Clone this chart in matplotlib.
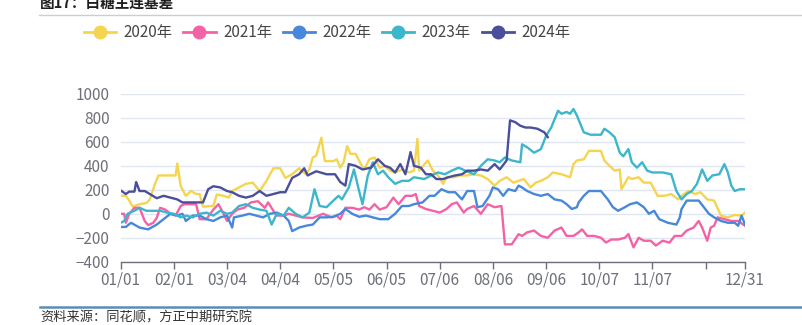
import numpy as np
import matplotlib
matplotlib.use('Agg')
import matplotlib.pyplot as plt
from matplotlib.lines import Line2D

plt.rcParams['font.family'] = ['Noto Sans CJK SC', 'DejaVu Sans']

# day index (0 = 01/01) and basis value for each year
days_2020 = [0, 3, 5, 7, 11, 15, 17, 20, 22, 32, 33, 35, 38, 41, 44, 46, 48, 54, 56, 60, 63, 65, 69, 73, 77,
             81, 85, 89, 93, 96, 100, 104, 108, 110, 112, 114, 117, 119, 124, 126, 128, 130, 132, 134, 137,
             140, 142, 145, 148, 151, 154, 157, 160, 164, 168, 171, 173, 174, 179, 182, 185, 188, 190, 194,
             198, 202, 206, 210, 214, 218, 221, 225, 229, 232, 235, 239, 242, 245, 249, 252, 257, 262, 264,
             266, 270, 273, 280, 282, 285, 288, 291, 292, 296, 298, 302, 305, 309, 313, 317, 321, 325, 327,
             331, 335, 338, 342, 346, 350, 354, 358, 362, 364]
vals_2020 = [150, 150, 110, 60, 80, 90, 120, 250, 320, 320, 420, 230, 150, 190, 165, 165, 60, 65, 160, 150,
             135, 190, 220, 250, 260, 190, 275, 380, 380, 300, 330, 380, 330, 370, 470, 485, 635, 440, 440,
             455, 385, 430, 565, 500, 500, 415, 370, 455, 470, 385, 400, 360, 345, 370, 345, 360, 625, 360,
             445, 360, 320, 250, 305, 305, 320, 320, 330, 320, 290, 235, 275, 305, 260, 275, 290, 220, 260,
             275, 305, 345, 330, 305, 415, 445, 455, 525, 525, 445, 400, 360, 370, 205, 305, 290, 305, 260,
             260, 150, 150, 165, 120, 150, 190, 165, 180, 120, 110, -15, -30, -10, -15, 10]

days_2021 = [0, 2, 3, 5, 8, 11, 14, 16, 19, 21, 23, 26, 29, 32, 35, 37, 44, 46, 50, 54, 57, 60, 62, 65, 68,
             72, 76, 80, 84, 86, 89, 91, 95, 98, 102, 106, 112, 118, 123, 126, 128, 131, 135, 139, 142, 145,
             148, 151, 155, 159, 162, 166, 170, 172, 174, 178, 182, 186, 190, 193, 196, 200, 202, 206, 210,
             214, 218, 222, 224, 228, 232, 234, 237, 241, 245, 249, 253, 257, 260, 264, 267, 269, 272, 276,
             280, 283, 286, 290, 294, 296, 299, 302, 305, 309, 312, 316, 320, 323, 327, 330, 334, 337, 339,
             342, 344, 346, 348, 352, 356, 360, 364]
vals_2021 = [0, 0, -75, 0, 50, 50, -60, -95, -75, -35, 50, 35, 0, -15, 65, 80, 80, -45, -45, 35, 80, 0, -60,
             0, 35, 50, 95, 105, 50, 95, 25, -15, -15, 0, -15, -30, -35, 0, -30, -15, -45, 50, 50, 35, 55, 35,
             80, 35, 55, 135, 80, 150, 150, 165, 65, 40, 25, 10, 40, 80, 95, 10, 40, 65, 0, 80, 55, 65, -255,
             -255, -170, -185, -155, -140, -185, -200, -140, -115, -185, -185, -155, -130, -185, -185, -200,
             -240, -215, -215, -200, -170, -280, -200, -225, -225, -265, -225, -240, -185, -185, -140, -115,
             -60, -115, -225, -115, -100, -30, -45, -60, -60, -100]

days_2022 = [0, 3, 6, 11, 16, 21, 25, 29, 33, 36, 38, 42, 46, 50, 54, 58, 62, 65, 66, 71, 75, 79, 83, 87, 91,
             95, 98, 100, 104, 108, 112, 116, 120, 124, 128, 131, 135, 139, 143, 147, 151, 156, 160, 164, 168,
             171, 176, 180, 183, 187, 191, 195, 199, 202, 206, 208, 211, 215, 217, 220, 223, 226, 230, 232,
             234, 237, 241, 245, 249, 253, 257, 260, 263, 266, 267, 270, 273, 280, 284, 287, 290, 294, 297,
             301, 305, 308, 311, 314, 319, 324, 326, 327, 330, 337, 340, 343, 346, 350, 354, 358, 360, 362,
             364]
vals_2022 = [-110, -110, -75, -115, -130, -90, -45, 0, -15, 0, -60, -15, -15, -45, -60, -30, -15, -115, -30,
             -15, 0, -15, -30, 0, 10, -15, -60, -145, -115, -100, -90, -30, -30, -25, 0, 40, 0, -25, -15, -30,
             -45, -45, 0, 65, 65, 80, 95, 150, 150, 205, 180, 180, 120, 190, 190, 55, 65, 150, 220, 205, 150,
             205, 190, 235, 220, 190, 165, 150, 165, 120, 110, 80, 40, 55, 95, 150, 190, 190, 120, 55, 25, 55,
             80, 95, 55, 0, 25, -45, -75, -90, -30, 40, 110, 110, 55, 0, -30, -60, -75, -75, -100, -15, -90]

days_2023 = [0, 2, 4, 8, 11, 15, 19, 23, 27, 31, 35, 38, 42, 46, 50, 54, 58, 62, 65, 69, 73, 77, 81, 85, 88,
             91, 95, 98, 102, 106, 110, 113, 116, 120, 124, 127, 129, 133, 136, 139, 141, 144, 147, 150, 153,
             156, 160, 164, 168, 171, 177, 181, 185, 189, 193, 197, 201, 206, 210, 214, 218, 221, 224, 228,
             233, 234, 237, 241, 245, 248, 251, 255, 257, 260, 262, 264, 266, 268, 270, 274, 280, 282, 285,
             288, 291, 293, 296, 298, 301, 304, 307, 310, 316, 321, 324, 327, 330, 333, 336, 339, 342, 345,
             349, 352, 354, 356, 358, 361, 364]
vals_2023 = [-75, -60, 0, 25, 50, 25, 25, 25, 10, 0, -30, -15, -30, 0, 10, -15, 25, 0, 10, 65, 80, 50, 35, 25,
             -90, 0, -15, 50, 0, -30, 10, 205, 65, 55, 110, 150, 120, 220, 370, 190, 80, 315, 430, 330, 360,
             305, 250, 275, 275, 305, 290, 320, 345, 330, 360, 385, 360, 330, 400, 455, 445, 430, 470, 445,
             430, 580, 555, 510, 540, 650, 720, 860, 835, 850, 835, 875, 820, 750, 680, 660, 660, 710, 680,
             640, 510, 480, 540, 430, 385, 430, 360, 345, 345, 330, 190, 120, 165, 190, 250, 370, 275, 320,
             330, 415, 345, 235, 190, 205, 205]

days_2024 = [0, 3, 5, 8, 9, 11, 14, 17, 21, 25, 29, 33, 36, 42, 48, 51, 54, 58, 62, 65, 69, 73, 77, 81, 85,
             89, 93, 96, 100, 104, 107, 109, 114, 120, 125, 128, 131, 133, 137, 141, 146, 150, 154, 157, 160,
             163, 166, 169, 171, 175, 178, 181, 184, 188, 191, 195, 199, 202, 206, 210, 214, 218, 221, 225,
             227, 230, 233, 236, 239, 243, 247, 249]
vals_2024 = [195, 165, 185, 185, 265, 190, 190, 165, 130, 150, 135, 120, 95, 95, 95, 205, 230, 220, 190, 180,
             150, 135, 150, 190, 150, 165, 180, 180, 300, 330, 380, 320, 355, 330, 330, 265, 235, 415, 400,
             370, 385, 455, 400, 385, 345, 415, 330, 515, 400, 385, 330, 330, 290, 290, 305, 320, 330, 360,
             360, 370, 360, 415, 370, 445, 780, 765, 735, 720, 720, 710, 680, 640]

tick_days = [0, 31, 62, 93, 124, 155, 186, 217, 248, 279, 310, 341, 364]
tick_labels = ['01/01', '02/01', '03/04', '04/04', '05/05', '06/05', '07/06', '08/06',
               '09/06', '10/07', '11/07', '', '12/31']

series = [
    ('2020年', days_2020, vals_2020, '#F5D44F'),
    ('2021年', days_2021, vals_2021, '#F462A6'),
    ('2022年', days_2022, vals_2022, '#4888D8'),
    ('2023年', days_2023, vals_2023, '#3CB6CB'),
    ('2024年', days_2024, vals_2024, '#4A4F9C'),
]

W, H = 802, 325
fig = plt.figure(figsize=(W / 100, H / 100), dpi=100)
fig.patch.set_facecolor('white')

x0, x1, ytop, ybot = 120.7, 745, 94, 261.7
ax = fig.add_axes([x0 / W, 1 - ybot / H, (x1 - x0) / W, (ybot - ytop) / H])

for name, d, v, c in series:
    ax.plot(d, v, color=c, lw=1.7, solid_joinstyle='round')

ax.set_xlim(0, 364)
ax.set_ylim(-400, 1000)
ax.set_yticks(np.arange(-400, 1001, 200))
ax.grid(axis='y', color='#E0E6F1', lw=1)
ax.set_axisbelow(True)
for s in ['top', 'right', 'left']:
    ax.spines[s].set_visible(False)
ax.spines['bottom'].set_color('#6E7079')
ax.spines['bottom'].set_linewidth(1)
ax.set_xticks(tick_days)
ax.set_xticklabels(tick_labels)
ax.tick_params(axis='x', length=5, width=1, color='#6E7079', labelcolor='#6E7079', labelsize=11, pad=2)
ax.tick_params(axis='y', length=0, labelcolor='#6E7079', labelsize=11, pad=8)

# legend row
handles = [Line2D([], [], color=c, lw=2, marker='o', markersize=9) for _, _, _, c in series]
fig.legend(handles, [s[0] for s in series], loc='center left',
           bbox_to_anchor=(84 / W, 1 - 33 / H), ncol=5, frameon=False,
           fontsize=11, handlelength=2.1, handletextpad=0.5, columnspacing=0.7,
           borderpad=0, borderaxespad=0, labelcolor='#464646')

# header / footer
fig.text(40 / W, 1 - 3 / H, '图17：白糖主连基差', fontsize=10.5, fontweight='bold',
         color='#1E1E1E', va='center', ha='left')
fig.add_artist(Line2D([39 / W, 1], [1 - 14.5 / H] * 2, color='#BFD0E0', lw=1))
fig.add_artist(Line2D([40 / W, 1], [1 - 306.5 / H] * 2, color='#5B8DB1', lw=1.8))
fig.text(40 / W, 1 - 318 / H, '资料来源：同花顺，方正中期研究院', fontsize=9.5,
         color='#333333', va='center', ha='left')

fig.savefig('out.png', dpi=100)
